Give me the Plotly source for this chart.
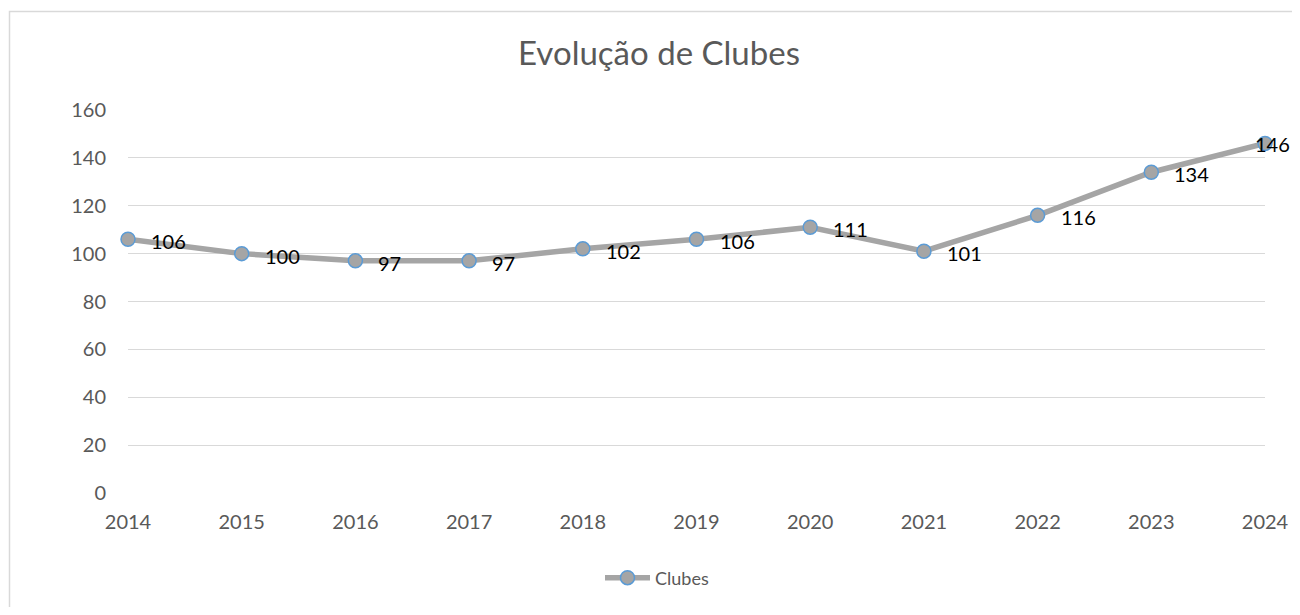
import plotly.graph_objects as go

years = [2014, 2015, 2016, 2017, 2018, 2019, 2020, 2021, 2022, 2023, 2024]
clubes = [106, 100, 97, 97, 102, 106, 111, 101, 116, 134, 146]
y_ticks = [0, 20, 40, 60, 80, 100, 120, 140, 160]

# figure pixel geometry (page body adds an 8px margin in the browser,
# so the figure is kept 16px smaller to avoid scrollbars)
W, H = 1284, 599
L, R, T, B = 120, 27, 102, 114
pw, ph = W - L - R, H - T - B

def px_to_paper_x(px):
    return (px - L) / pw

def px_to_paper_y(py):
    return (H - B - py) / ph

font = "Lato"

fig = go.Figure()
fig.add_trace(go.Scatter(
    x=years, y=clubes, name="Clubes",
    mode="lines+markers",
    line=dict(color="#A5A5A5", width=5.5),
    marker=dict(size=14, color="#A5A5A5", line=dict(color="#5B9BD5", width=1.5)),
    cliponaxis=False,
))

annotations = []
for i, (x, v) in enumerate(zip(years, clubes)):
    last = i == len(years) - 1
    if last:
        annotations.append(dict(
            x=x, y=v, xref="x", yref="y", text=str(v), showarrow=False,
            xanchor="right", yanchor="middle", xshift=27, yshift=0,
            font=dict(family=font, size=20, color="#000000"),
        ))
    else:
        annotations.append(dict(
            x=x, y=v, xref="x", yref="y", text=str(v), showarrow=False,
            xanchor="left", yanchor="middle", xshift=21, yshift=-2,
            font=dict(family=font, size=20, color="#000000"),
        ))

fig.update_layout(
    width=W, height=H,
    margin=dict(l=L, r=R, t=T, b=B, autoexpand=False),
    paper_bgcolor="white", plot_bgcolor="white",
    title=dict(text="Evolução de Clubes", x=(659 - 8) / W, xref="container", xanchor="center",
               y=1 - 45 / H, yref="container", yanchor="middle",
               font=dict(family=font, size=33, color="#595959")),
    xaxis=dict(
        range=[2014, 2024], tickmode="array", tickvals=years,
        ticktext=[str(y) for y in years],
        showgrid=False, zeroline=False, showline=False, ticks="",
        tickfont=dict(family=font, size=20, color="#595959"),
        ticklabelstandoff=15, automargin=False,
    ),
    yaxis=dict(
        range=[0, 160], tickmode="array", tickvals=y_ticks,
        showgrid=True, gridcolor="#D9D9D9", gridwidth=1.3,
        zeroline=False, showline=False, ticks="",
        tickfont=dict(family=font, size=20, color="#595959"),
        ticklabelstandoff=21, automargin=False,
    ),
    showlegend=True,
    legend=dict(orientation="h", x=(657 - 8) / W, xref="container", xanchor="center",
                y=1 - 570 / H, yref="container", yanchor="middle",
                font=dict(family=font, size=18, color="#595959"),
                itemwidth=45),
    annotations=annotations,
    shapes=[dict(type="rect", xref="paper", yref="paper",
                 x0=px_to_paper_x(1.5), x1=px_to_paper_x(1330),
                 y0=px_to_paper_y(650), y1=px_to_paper_y(3.5),
                 line=dict(color="#D9D9D9", width=1.5), fillcolor="rgba(0,0,0,0)",
                 layer="below")],
)

fig.write_html("out.html")
